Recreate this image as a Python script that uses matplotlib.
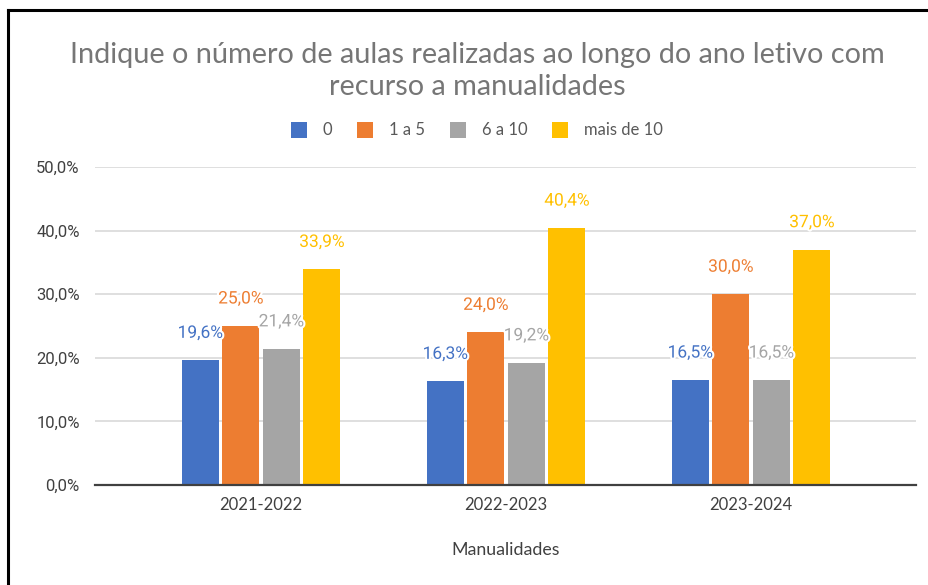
import matplotlib
matplotlib.use("Agg")
import matplotlib.pyplot as plt
import matplotlib.patheffects as pe
from matplotlib.patches import Patch
from matplotlib.lines import Line2D
import numpy as np

categories = ["2021-2022", "2022-2023", "2023-2024"]
series_names = ["0", "1 a 5", "6 a 10", "mais de 10"]
s_0 = [0.196, 0.163, 0.165]
s_1a5 = [0.250, 0.240, 0.300]
s_6a10 = [0.214, 0.192, 0.165]
s_mais10 = [0.339, 0.404, 0.370]
series = [s_0, s_1a5, s_6a10, s_mais10]
colors = ["#4472C4", "#ED7D31", "#A5A5A5", "#FFC000"]
yticks = [0.0, 0.1, 0.2, 0.3, 0.4, 0.5]

W, H = 929, 585
fig = plt.figure(figsize=(W / 100, H / 100), dpi=100)
fig.patch.set_facecolor("white")

left, right, bottom_px, top_px = 95, 916, 485, 167
ax = fig.add_axes([left / W, 1 - bottom_px / H, (right - left) / W, (bottom_px - top_px) / H])

x = np.arange(len(categories))
pitch = 0.1655
width = 0.151
for i, (vals, c, name) in enumerate(zip(series, colors, series_names)):
    xs = x + (i - 1.5) * pitch
    ax.bar(xs, vals, width=width, color=c, label=name, zorder=3)
    for xi, v in zip(xs, vals):
        ax.annotate(f"{v*100:.1f}%".replace(".", ","), (xi, v), xytext=(0, 27),
                    textcoords="offset pixels", ha="center", va="center",
                    fontsize=12.5, color=c, family="Roboto", zorder=5,
                    path_effects=[pe.withStroke(linewidth=3, foreground="white")])

ax.set_xlim(-0.678, 2.673)
ax.set_ylim(0, 0.5)
ax.set_yticks(yticks)
ax.set_yticklabels([f"{t*100:.1f}%".replace(".", ",") for t in yticks],
                   family="Roboto", fontsize=12, color="#404040")
ax.set_xticks(x)
ax.set_xticklabels(categories, family="Lato", fontsize=12, color="#404040")
ax.tick_params(axis="both", length=0)
ax.tick_params(axis="x", pad=9)
ax.tick_params(axis="y", pad=11)
ax.grid(axis="y", color="#D9D9D9", linewidth=1.2, zorder=0)
for s in ["top", "right", "left"]:
    ax.spines[s].set_visible(False)
ax.spines["bottom"].set_color("#404040")
ax.spines["bottom"].set_linewidth(1.6)
ax.spines["bottom"].set_zorder(4)

fig.text(506 / W, 1 - 550 / H, "Manualidades", ha="center", va="center",
         family="Lato", fontsize=12.8, color="#404040")

fig.text(477 / W, 1 - 55 / H, "Indique o número de aulas realizadas ao longo do ano letivo com",
         ha="center", va="center", family="Lato", fontsize=20.8, color="#767676")
fig.text(477 / W, 1 - 87 / H, "recurso a manualidades",
         ha="center", va="center", family="Lato", fontsize=20.8, color="#767676")

handles = [Patch(facecolor=c, edgecolor="none") for c in colors]
leg = fig.legend(handles, series_names, loc="center", bbox_to_anchor=(477 / W, 1 - 130 / H),
                 ncol=4, frameon=False, handlelength=0.95, handleheight=1.15,
                 columnspacing=1.5, handletextpad=0.95,
                 prop={"family": "Lato", "size": 12})
for t in leg.get_texts():
    t.set_color("#595959")

fig.add_artist(Line2D([8 / W, 8 / W], [0, 1 - 10 / H], color="black", linewidth=2.2,
                      transform=fig.transFigure))
fig.add_artist(Line2D([8 / W, 1], [1 - 10 / H, 1 - 10 / H], color="black", linewidth=2.2,
                      transform=fig.transFigure))

fig.savefig("out.png", dpi=100, facecolor="white")
